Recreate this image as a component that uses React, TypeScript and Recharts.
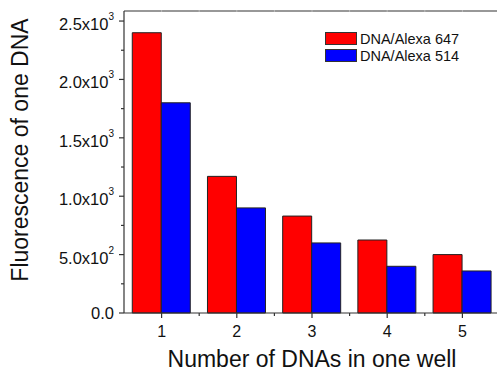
import React from 'react';
import { BarChart, Bar, XAxis, YAxis } from 'recharts';

// Number of DNAs per well
const counts = ['1', '2', '3', '4', '5'];
// Fluorescence of one DNA, per dye
const alexa647 = [2400, 1170, 830, 625, 500];
const alexa514 = [1800, 900, 600, 400, 360];
// Y axis ticks: majors every 500, minors in between
const yTicks = [0, 250, 500, 750, 1000, 1250, 1500, 1750, 2000, 2250, 2500];
const yMax = 2586;

const series = [
  { key: 'a647', name: 'DNA/Alexa 647', color: '#ff0000', values: alexa647 },
  { key: 'a514', name: 'DNA/Alexa 514', color: '#0000ff', values: alexa514 },
];

const data = counts.map((n, i) => {
  const row: Record<string, string | number> = { n };
  series.forEach((s) => (row[s.key] = s.values[i]));
  return row;
});

const FONT = '"Liberation Sans", Arial, Helvetica, sans-serif';
const AXIS = '#333';

function sciParts(v: number): [string, string | null] {
  if (v === 0) return ['0.0', null];
  const e = Math.floor(Math.log10(v));
  const m = (v / Math.pow(10, e)).toFixed(1);
  return [`${m}x10`, String(e)];
}

const YTick = (props: any) => {
  const { x, y, payload } = props;
  const v = payload.value as number;
  const major = v % 500 === 0;
  const [base, exp] = sciParts(v);
  return (
    <g>
      <line x1={x - (major ? 5 : 3)} x2={x} y1={y} y2={y} stroke={AXIS} strokeWidth={1.2} />
      {major && (
        <text
          x={x - 10}
          y={exp ? y + 9 : y + 6}
          textAnchor="end"
          fontFamily={FONT}
          fontSize={16.5}
          fill="#111"
        >
          <tspan>{base}</tspan>
          {exp && (
            <tspan dy={-10} fontSize={10}>
              {exp}
            </tspan>
          )}
        </text>
      )}
    </g>
  );
};

const XTick = (props: any) => {
  const { x, y, payload } = props;
  const half = payload.offset ?? 37.6;
  return (
    <g>
      <line x1={x} x2={x} y1={y} y2={y + 5} stroke={AXIS} strokeWidth={1.2} />
      <line x1={x + half} x2={x + half} y1={y} y2={y + 3} stroke={AXIS} strokeWidth={1.2} />
      <text x={x} y={y + 24} textAnchor="middle" fontFamily={FONT} fontSize={16} fill="#111">
        {payload.value}
      </text>
    </g>
  );
};

const TopTick = (props: any) => {
  const { x, y, payload } = props;
  const half = payload.offset ?? 37.6;
  return (
    <g>
      <line x1={x} x2={x} y1={y + 1} y2={y - 1} stroke="#bbb" strokeWidth={1} />
      <line x1={x + half} x2={x + half} y1={y + 1} y2={y - 1} stroke="#bbb" strokeWidth={1} />
    </g>
  );
};

export default function App() {
  return (
    <div
      style={{
        position: 'absolute',
        left: 0,
        top: 0,
        width: 497,
        height: 371,
        overflow: 'hidden',
        background: '#fff',
      }}
    >
      <BarChart
        width={520}
        height={371}
        data={data}
        margin={{ top: 10, right: 20, left: 0, bottom: 0 }}
        barCategoryGap="11%"
        barGap={0}
      >
        <XAxis
          dataKey="n"
          height={58}
          axisLine={{ stroke: AXIS, strokeWidth: 1.2 }}
          tickLine={false}
          tickSize={0}
          tickMargin={0}
          tick={<XTick />}
          interval={0}
        />
        <XAxis
          xAxisId="top"
          dataKey="n"
          orientation="top"
          height={1}
          axisLine={{ stroke: AXIS, strokeWidth: 1.2 }}
          tickLine={false}
          tickSize={0}
          tickMargin={0}
          tick={<TopTick />}
          interval={0}
        />
        <YAxis
          width={124}
          domain={[0, yMax]}
          ticks={yTicks}
          interval={0}
          axisLine={{ stroke: AXIS, strokeWidth: 1.2 }}
          tickLine={false}
          tickSize={0}
          tickMargin={0}
          tick={<YTick />}
        />
        {series.map((s) => (
          <Bar
            key={s.key}
            dataKey={s.key}
            name={s.name}
            fill={s.color}
            stroke="#222"
            strokeWidth={1}
            isAnimationActive={false}
          />
        ))}
        {/* legend */}
        <g fontFamily={FONT} fontSize={14.5} fill="#111">
          {series.map((s, i) => (
            <g key={s.key}>
              <rect x={325.5} y={32.5 + i * 17} width={31} height={12} fill={s.color} stroke="#333" strokeWidth={1} />
              <text x={360} y={43.5 + i * 17}>
                {s.name}
              </text>
            </g>
          ))}
        </g>
        <text
          x={28}
          y={150}
          transform="rotate(-90, 28, 150)"
          textAnchor="middle"
          fontFamily={FONT}
          fontSize={23}
          fill="#111"
        >
          Fluorescence of one DNA
        </text>
        <text x={312} y={367} textAnchor="middle" fontFamily={FONT} fontSize={23} fill="#111">
          Number of DNAs in one well
        </text>
      </BarChart>
    </div>
  );
}
